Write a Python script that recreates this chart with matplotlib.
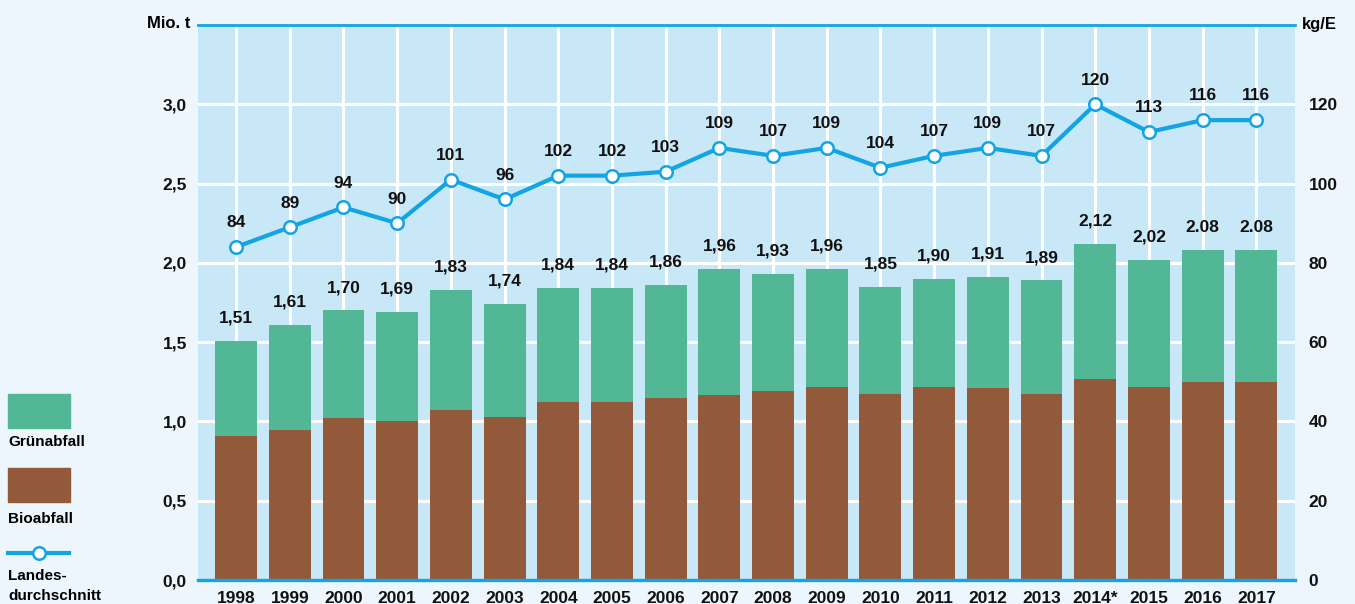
import matplotlib.pyplot as plt
import matplotlib.patches as mpatches
from matplotlib.lines import Line2D

# data
years = ['1998', '1999', '2000', '2001', '2002', '2003', '2004', '2005', '2006', '2007',
         '2008', '2009', '2010', '2011', '2012', '2013', '2014*', '2015', '2016', '2017']
total = [1.51, 1.61, 1.70, 1.69, 1.83, 1.74, 1.84, 1.84, 1.86, 1.96,
         1.93, 1.96, 1.85, 1.90, 1.91, 1.89, 2.12, 2.02, 2.08, 2.08]
total_labels = ['1,51', '1,61', '1,70', '1,69', '1,83', '1,74', '1,84', '1,84', '1,86', '1,96',
                '1,93', '1,96', '1,85', '1,90', '1,91', '1,89', '2,12', '2,02', '2.08', '2.08']
bio = [0.91, 0.945, 1.02, 1.00, 1.07, 1.025, 1.125, 1.125, 1.145, 1.165,
       1.195, 1.215, 1.175, 1.22, 1.21, 1.17, 1.265, 1.22, 1.25, 1.25]
gruen = [t - b for t, b in zip(total, bio)]
kg_per_e = [84, 89, 94, 90, 101, 96, 102, 102, 103, 109,
            107, 109, 104, 107, 109, 107, 120, 113, 116, 116]

left_ticks = [0, 0.5, 1.0, 1.5, 2.0, 2.5, 3.0]
left_labels = ['0,0', '0,5', '1,0', '1,5', '2,0', '2,5', '3,0']
right_ticks = [0, 20, 40, 60, 80, 100, 120]

GREEN = '#52b794'
BROWN = '#93593b'
BLUE = '#12a4e4'
PLOT_BG = '#c8e8f8'
FIG_BG = '#ecf6fc'

plt.rcParams['font.family'] = ['Liberation Sans', 'DejaVu Sans']
plt.rcParams['font.weight'] = 'bold'

fig = plt.figure(figsize=(13.55, 6.04), dpi=100, facecolor=FIG_BG)
ax = fig.add_axes([0.1461, 0.0397, 0.8096, 0.9189])
ax.set_facecolor(PLOT_BG)

x = list(range(len(years)))
ax.bar(x, bio, width=0.78, color=BROWN, zorder=2)
ax.bar(x, gruen, bottom=bio, width=0.78, color=GREEN, zorder=2)
for i in x:
    ax.annotate(total_labels[i], (i, total[i]), xytext=(0, 11), textcoords='offset points',
                ha='center', va='bottom', fontsize=12.5, fontweight='bold', color='#111111', zorder=5)

ax.set_xlim(-0.71, 19.72)
ax.set_ylim(0, 3.5)
ax.set_yticks(left_ticks)
ax.set_yticklabels(left_labels)
ax.set_xticks(x)
ax.set_xticklabels(years)
ax.tick_params(axis='both', length=0, labelsize=12.5, colors='#111111')
ax.tick_params(axis='x', pad=8)
ax.tick_params(axis='y', pad=8)
ax.grid(True, color='white', linewidth=2.2)
ax.set_axisbelow(True)
for s in ['left', 'right']:
    ax.spines[s].set_visible(False)
ax.spines['top'].set_color(BLUE)
ax.spines['top'].set_linewidth(2)
ax.spines['bottom'].set_color(BLUE)
ax.spines['bottom'].set_linewidth(2.4)

ax2 = ax.twinx()
ax2.set_ylim(0, 140)
ax2.plot(x, kg_per_e, color=BLUE, linewidth=3, marker='o', markersize=9,
         markerfacecolor='white', markeredgecolor=BLUE, markeredgewidth=1.8, zorder=4)
for i in x:
    ax2.annotate(str(kg_per_e[i]), (i, kg_per_e[i]), xytext=(0, 12), textcoords='offset points',
                 ha='center', va='bottom', fontsize=12.5, fontweight='bold', color='#111111')
ax2.set_yticks(right_ticks)
ax2.tick_params(axis='y', length=0, labelsize=12.5, colors='#111111', pad=10)
for s in ['left', 'right', 'top', 'bottom']:
    ax2.spines[s].set_visible(False)

# unit labels
fig.text(190 / 1355, 1 - 24 / 604, 'Mio. t', ha='right', va='center', fontsize=12, fontweight='bold')
fig.text(1302 / 1355, 1 - 24 / 604, 'kg/E', ha='left', va='center', fontsize=12, fontweight='bold')

# legend on the left
fig.patches.append(mpatches.Rectangle((8 / 1355, 1 - 428 / 604), 62 / 1355, 34 / 604,
                                      transform=fig.transFigure, color=GREEN))
fig.text(8 / 1355, 1 - 442 / 604, 'Grünabfall', ha='left', va='center', fontsize=11, fontweight='bold')
fig.patches.append(mpatches.Rectangle((8 / 1355, 1 - 502 / 604), 62 / 1355, 34 / 604,
                                      transform=fig.transFigure, color=BROWN))
fig.text(8 / 1355, 1 - 519 / 604, 'Bioabfall', ha='left', va='center', fontsize=11, fontweight='bold')
fig.lines.append(Line2D([8 / 1355, 69 / 1355], [1 - 553 / 604, 1 - 553 / 604], transform=fig.transFigure,
                        color=BLUE, linewidth=3))
fig.lines.append(Line2D([39 / 1355], [1 - 553 / 604], transform=fig.transFigure, marker='o', markersize=9,
                        markerfacecolor='white', markeredgecolor=BLUE, markeredgewidth=1.8))
fig.text(8 / 1355, 1 - 576 / 604, 'Landes-', ha='left', va='center', fontsize=11, fontweight='bold')
fig.text(8 / 1355, 1 - 596 / 604, 'durchschnitt', ha='left', va='center', fontsize=11, fontweight='bold')

plt.savefig('out.png', dpi=100, facecolor=FIG_BG)
